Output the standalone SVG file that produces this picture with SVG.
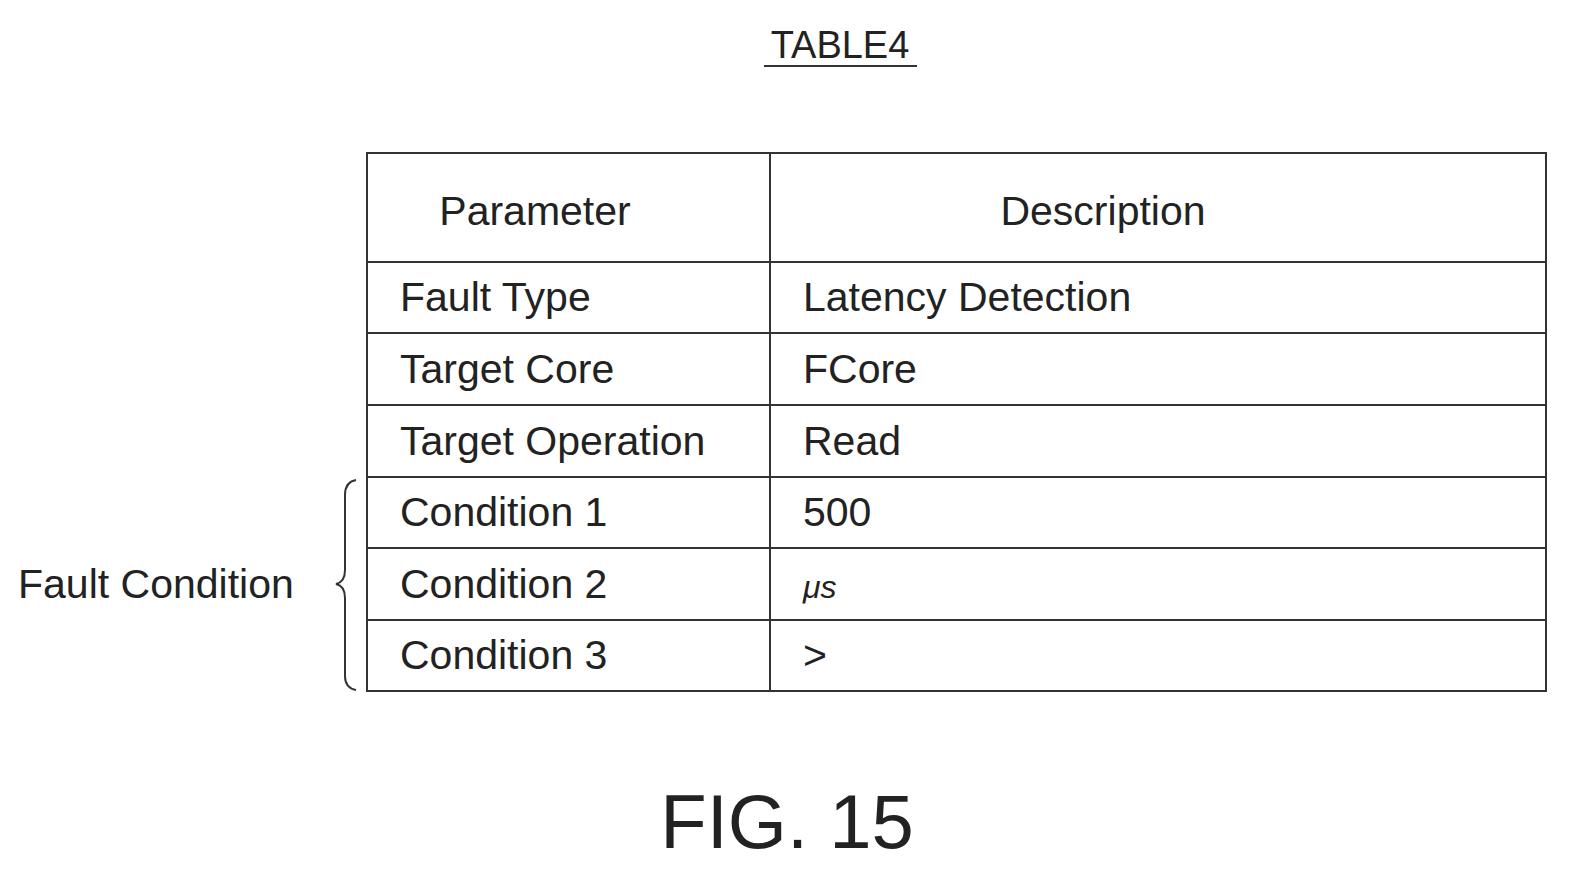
<svg xmlns="http://www.w3.org/2000/svg" width="1579" height="878" viewBox="0 0 1579 878">
<style>
text{font-family:"Liberation Sans",Arial,sans-serif;fill:#222;font-size:41px}
.l{stroke:#333;stroke-width:2;fill:none}
</style>
<rect width="1579" height="878" fill="#fff"/>
<g id="title"><text x="840" y="58" text-anchor="middle" style="font-size:38px">TABLE4</text><line class="l" x1="764" y1="66" x2="917" y2="66"/></g>
<g id="table">
<rect class="l" x="367" y="153" width="1179" height="538"/>
<line class="l" x1="770" y1="153" x2="770" y2="691"/>
<g class="l">
<line x1="367" y1="262" x2="1546" y2="262"/>
<line x1="367" y1="333" x2="1546" y2="333"/>
<line x1="367" y1="405" x2="1546" y2="405"/>
<line x1="367" y1="477" x2="1546" y2="477"/>
<line x1="367" y1="548" x2="1546" y2="548"/>
<line x1="367" y1="620" x2="1546" y2="620"/>
</g>
<text x="535" y="225" text-anchor="middle">Parameter</text>
<text x="1103" y="225" text-anchor="middle">Description</text>
<text x="400" y="311">Fault Type</text><text x="803" y="311">Latency Detection</text>
<text x="400" y="383">Target Core</text><text x="803" y="383">FCore</text>
<text x="400" y="455">Target Operation</text><text x="803" y="455">Read</text>
<text x="400" y="526">Condition 1</text><text x="803" y="526">500</text>
<text x="400" y="598">Condition 2</text><text x="803" y="598" style="font-style:italic;font-size:32px">μs</text>
<text x="400" y="669">Condition 3</text><text x="803" y="669">&gt;</text>
</g>
<g id="brace">
<path class="l" d="M356 480 Q345 482 345 495 L345 570 Q345 582 336 584 Q345 586 345 598 L345 676 Q345 688 356 690"/>
<text x="18" y="598">Fault Condition</text>
</g>
<text x="787" y="848" text-anchor="middle" style="font-size:76px">FIG. 15</text>
</svg>
